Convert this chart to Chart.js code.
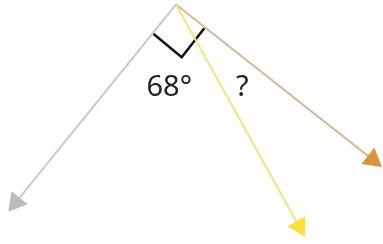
<!DOCTYPE html>
<html>
<head>
<meta charset="utf-8">
<script src="https://cdn.jsdelivr.net/npm/chart.js@4/dist/chart.umd.min.js"></script>
<style>
    html, body { margin: 0; padding: 0; background: #fff; }
    #wrap { width: 383px; height: 244px; position: relative; }
</style>
</head>
<body>
<div id="wrap"><canvas id="angleChart"></canvas></div>
<script>
// diagram units: apex at origin, x to the right, y upwards
const apex = { x: 0, y: 0 };
const rayNames = ['gray', 'yellow', 'tan'];
const rayEnds = [
    { x: -160.2, y: -197.9 },
    { x: 123.2, y: -222 },
    { x: 196.6, y: -155.1 }
];
const rayColors = ['#c8cbce', '#f8e27e', '#d5bb90'];
const headColors = ['#b8bdc1', '#fde03c', '#d8953a'];
const rightAngle = [
    { x: -23.3, y: -28.8 },
    { x: 5.7, y: -52.8 },
    { x: 28.3, y: -23.8 }
];
const labelTexts = ['68°', '?'];
const labelPoints = [
    { x: -29.5, y: -91.5 },
    { x: 60, y: -91.5 }
];

document.addEventListener('DOMContentLoaded', function () {
    const ctx = document.getElementById('angleChart');

    const datasets = rayEnds.map(function (end, i) {
        // clockwise angle from "up" on screen, triangle points up by default
        const rot = Math.atan2(end.x - apex.x, end.y - apex.y) * 180 / Math.PI;
        return {
            label: rayNames[i],
            data: [apex, end],
            borderColor: rayColors[i],
            borderWidth: 2,
            pointRadius: [0, 12],
            pointStyle: 'triangle',
            rotation: [0, rot],
            pointBackgroundColor: headColors[i],
            pointBorderWidth: 0,
            showLine: true,
            clip: false
        };
    });

    datasets.push({
        label: 'right angle',
        data: rightAngle,
        borderColor: '#111',
        borderWidth: 2.5,
        pointRadius: 0,
        showLine: true,
        clip: false
    });

    const labelPlugin = {
        id: 'angleLabels',
        afterDatasetsDraw(chart) {
            const c = chart.ctx;
            const xs = chart.scales.x;
            const ys = chart.scales.y;
            c.save();
            c.font = '29px "Noto Sans", sans-serif';
            c.fillStyle = '#222';
            c.textAlign = 'left';
            c.textBaseline = 'alphabetic';
            labelTexts.forEach(function (t, i) {
                c.fillText(t, xs.getPixelForValue(labelPoints[i].x), ys.getPixelForValue(labelPoints[i].y));
            });
            c.restore();
        }
    };

    new Chart(ctx, {
        type: 'scatter',
        data: { datasets: datasets },
        options: {
            responsive: true,
            maintainAspectRatio: false,
            animation: false,
            layout: { padding: 0, autoPadding: false },
            plugins: {
                legend: { display: false },
                tooltip: { enabled: false }
            },
            scales: {
                x: { type: 'linear', min: -176, max: 207, display: false },
                y: { type: 'linear', min: -239.5, max: 4.5, display: false }
            }
        },
        plugins: [labelPlugin]
    });
});
</script>
</body>
</html>
